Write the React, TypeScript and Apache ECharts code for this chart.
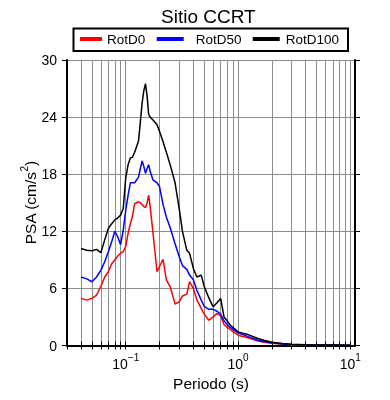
import React, { useEffect, useRef } from 'react';
import * as echarts from 'echarts';

const periods = [0.04, 0.045, 0.05, 0.055, 0.06, 0.065, 0.07, 0.075, 0.08, 0.085, 0.09, 0.095, 0.1, 0.105, 0.11, 0.115, 0.12, 0.13, 0.135, 0.14, 0.145, 0.15, 0.155, 0.16, 0.165, 0.175, 0.19, 0.2, 0.215, 0.23, 0.25, 0.275, 0.3, 0.32, 0.35, 0.37, 0.4, 0.43, 0.47, 0.5, 0.55, 0.6, 0.65, 0.7, 0.75, 0.8, 0.85, 0.9, 1.0, 1.1, 1.2, 1.35, 1.5, 1.7, 2.0, 2.5, 3, 4, 5, 6, 7, 8, 10];

const rotD0 = [4.95, 4.77, 4.95, 5.3, 6.2, 7.2, 7.75, 8.6, 9.0, 9.4, 9.7, 9.85, 10.4, 11.8, 12.8, 13.6, 14.9, 15.1, 15.0, 14.8, 14.6, 14.5, 15.0, 15.8, 14.6, 11.8, 7.75, 8.3, 9.05, 6.9, 6.1, 4.35, 4.6, 5.2, 5.4, 6.7, 6.0, 4.8, 3.9, 3.3, 2.66, 3.0, 3.37, 3.1, 2.2, 1.9, 1.68, 1.45, 1.08, 0.95, 0.84, 0.65, 0.48, 0.35, 0.23, 0.14, 0.08, 0.05, 0.04, 0.03, 0.03, 0.02, 0.02];

const rotD50 = [7.2, 7.0, 6.7, 7.2, 7.9, 8.8, 9.85, 10.9, 12.0, 11.4, 10.6, 12.1, 14.2, 15.8, 17.1, 17.1, 17.1, 17.7, 18.6, 19.4, 18.8, 18.1, 18.6, 19.0, 18.3, 17.4, 17.1, 16.7, 14.8, 13.5, 12.3, 10.7, 9.3, 8.4, 8.0, 7.4, 6.9, 5.8, 4.77, 4.1, 3.8, 3.8, 3.6, 3.3, 2.6, 2.2, 1.9, 1.7, 1.33, 1.15, 0.98, 0.75, 0.56, 0.42, 0.28, 0.17, 0.1, 0.07, 0.05, 0.04, 0.04, 0.03, 0.03];

const rotD100 = [10.2, 10.0, 9.96, 10.1, 9.75, 11.1, 12.3, 12.8, 13.2, 13.4, 13.7, 14.4, 17.6, 19.0, 19.7, 19.8, 20.3, 21.5, 23.5, 25.5, 26.8, 27.5, 26.2, 24.3, 24.0, 23.7, 23.2, 22.5, 21.4, 20.3, 18.9, 17.1, 14.3, 12.0, 10.0, 9.7, 8.1, 7.2, 7.4, 6.2, 5.0, 4.06, 4.5, 4.95, 3.0, 2.6, 2.14, 1.9, 1.43, 1.3, 1.19, 0.95, 0.74, 0.55, 0.35, 0.21, 0.12, 0.08, 0.06, 0.05, 0.04, 0.04, 0.03];

const seriesNames = ['RotD0', 'RotD50', 'RotD100'];
const seriesColors = ['#ff0000', '#0000ff', '#000000'];
const xMajorTicks = [0.1, 1, 10];
const xMinorTicks = [0.03, 0.04, 0.05, 0.06, 0.07, 0.08, 0.09, 0.1, 0.2, 0.3, 0.4, 0.5, 0.6, 0.7, 0.8, 0.9, 1, 2, 3, 4, 5, 6, 7, 8, 9, 10];

const FONT = 'Liberation Sans, Arial, Helvetica, sans-serif';

export default function App() {
  const ref = useRef<HTMLDivElement>(null);
  useEffect(() => {
    const chart = echarts.init(ref.current!, null, { renderer: 'svg' });
    const allValues = [rotD0, rotD50, rotD100];
    const supLabel = (v: number) => {
      const e = Math.round(Math.log10(v));
      return '{b|10}{s|' + (e < 0 ? '\u2212' + Math.abs(e) : String(e)) + '}';
    };
    const legendLeft = [80, 156.7, 252.7];
    const legendIconW = [22, 27, 27];
    const legendPad = [0, 7, 1];
    chart.setOption({
      animation: false,
      textStyle: { fontFamily: FONT, color: '#000' },
      title: {
        text: 'Sitio CCRT',
        left: 156,
        top: 2,
        textStyle: { fontSize: 19, fontWeight: 'normal', color: '#000', fontFamily: FONT },
      },
      legend: seriesNames.map((n, i) => ({
        data: [n],
        left: legendLeft[i],
        top: 32,
        padding: 0,
        icon: 'rect',
        itemWidth: legendIconW[i],
        itemHeight: 4,
        textStyle: { fontSize: 13.5, color: '#000', fontFamily: FONT, padding: [0, 0, 0, legendPad[i]] },
      })),
      graphic: [
        {
          type: 'rect',
          shape: { x: 73.5, y: 28.5, width: 274.5, height: 22.5 },
          style: { fill: 'none', stroke: '#000', lineWidth: 2 },
          silent: true,
        },
      ],
      grid: { left: 67, right: 35, top: 60, bottom: 54.5, containLabel: false },
      xAxis: [
        {
          type: 'log',
          logBase: 10,
          min: 0.03,
          max: 11,
          name: 'Periodo (s)',
          nameLocation: 'middle',
          nameGap: 24,
          nameTextStyle: { fontSize: 15.5, color: '#000', fontFamily: FONT },
          axisLine: { show: true, lineStyle: { color: '#000', width: 2 } },
          axisTick: { show: true, inside: false, length: 4, customValues: xMinorTicks, lineStyle: { color: '#000', width: 1 } },
          axisLabel: {
            show: true,
            customValues: xMajorTicks,
            margin: 7,
            formatter: supLabel,
            rich: {
              b: { fontSize: 14, fontFamily: FONT, color: '#000', lineHeight: 18, verticalAlign: 'bottom' },
              s: { fontSize: 10, fontFamily: FONT, color: '#000', lineHeight: 10, verticalAlign: 'top' },
            },
          },
          splitLine: { show: true, lineStyle: { color: '#8c8c8c', width: 1 } },
          minorTick: { show: false },
        },
        {
          type: 'log',
          logBase: 10,
          min: 0.03,
          max: 11,
          position: 'top',
          axisLine: { show: true, lineStyle: { color: '#000', width: 2 } },
          axisTick: { show: true, inside: false, length: 4, customValues: xMinorTicks, lineStyle: { color: '#000', width: 1 } },
          axisLabel: { show: false },
          splitLine: { show: false },
        },
      ],
      yAxis: [
        {
          type: 'value',
          min: 0,
          max: 30,
          interval: 6,
          name: '{b|PSA (cm/s}{s|2}{b|)}',
          nameLocation: 'middle',
          nameGap: 29,
          nameMoveOverlap: false,
          nameTextStyle: {
            rich: {
              b: { fontSize: 15.5, fontFamily: FONT, color: '#000', lineHeight: 19, verticalAlign: 'bottom' },
              s: { fontSize: 10, fontFamily: FONT, color: '#000', lineHeight: 10, verticalAlign: 'top' },
            },
          },
          axisLine: { show: true, lineStyle: { color: '#000', width: 2 } },
          axisTick: { show: true, inside: false, length: 5, lineStyle: { color: '#000', width: 1 } },
          axisLabel: { show: true, fontSize: 14, color: '#000', fontFamily: FONT, margin: 10 },
          splitLine: { show: true, lineStyle: { color: '#8c8c8c', width: 1 } },
        },
        {
          type: 'value',
          min: 0,
          max: 30,
          interval: 6,
          position: 'right',
          axisLine: { show: true, lineStyle: { color: '#000', width: 2 } },
          axisTick: { show: true, inside: false, length: 5, lineStyle: { color: '#000', width: 1 } },
          axisLabel: { show: false },
          splitLine: { show: false },
        },
      ],
      series: seriesNames.map((n, i) => ({
        name: n,
        type: 'line',
        xAxisIndex: 0,
        yAxisIndex: 0,
        showSymbol: false,
        symbol: 'none',
        color: seriesColors[i],
        lineStyle: { color: seriesColors[i], width: 1.5 },
        data: periods.map((p, k) => [p, allValues[i][k]]),
        z: 3 + i,
      })),
    });
    return () => chart.dispose();
  }, []);
  return <div ref={ref} style={{ position: 'fixed', left: 0, top: 0, width: 390, height: 400 }} />;
}
